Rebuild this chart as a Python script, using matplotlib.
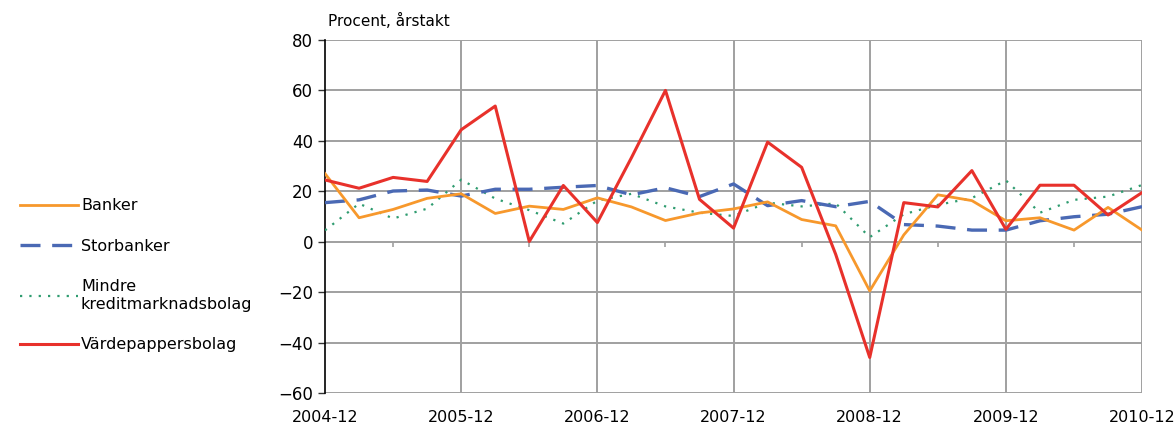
import numpy as np
import matplotlib.pyplot as plt

# Quarterly data, 2004-12 .. 2010-12 (percent, annual rate)
year_labels = ["2004-12", "2005-12", "2006-12", "2007-12", "2008-12", "2009-12", "2010-12"]

banker = [27.0, 9.5, 12.8, 17.2, 19.0, 11.2, 14.1, 12.8, 17.4,
          13.8, 8.4, 11.4, 13.0, 15.8, 8.8, 6.3, -19.5,
          2.7, 18.6, 16.3, 8.3, 9.5, 4.6, 13.6, 4.6]
storbanker = [15.5, 16.6, 20.1, 20.5, 18.1, 20.8, 20.8, 21.6, 22.3,
              18.6, 21.4, 17.9, 22.9, 14.3, 16.3, 13.9, 16.0,
              6.8, 6.2, 4.6, 4.6, 8.3, 9.9, 10.9, 13.9]
mindre = [4.5, 15.1, 9.2, 13.1, 24.6, 17.1, 12.5, 7.2, 16.3,
          19.0, 14.0, 11.5, 10.2, 15.5, 14.0, 15.2, 1.8,
          10.9, 14.6, 17.3, 24.3, 11.5, 16.6, 17.9, 22.5]
vardepapper = [24.5, 21.2, 25.5, 23.9, 44.4, 53.8, 0.1, 22.3, 7.6,
               33.3, 60.0, 16.8, 5.4, 39.5, 29.5, -5.0, -45.9,
               15.5, 13.8, 28.2, 4.9, 22.4, 22.4, 10.6, 19.5]

x = np.arange(len(banker))

fig = plt.figure(figsize=(11.75, 4.29), dpi=100)
ax = fig.add_axes([0.2766, 0.0839, 0.972 - 0.2766, 0.9068 - 0.0839])

grid_col = "#a0a0a0"

# grid
for v in range(-60, 81, 20):
    ax.axhline(v, color=grid_col, lw=1.4, zorder=1)
for q in range(4, 25, 4):
    ax.axvline(q, color=grid_col, lw=1.4, zorder=1)
# small ticks on zero line at mid-years
ax.vlines(np.arange(2, 24, 4), -2.2, 0, color=grid_col, lw=1.2, zorder=1)

ax.plot(x, mindre, color="#2f9c70", lw=1.6, ls=(0, (1, 3.2)), zorder=3,
        label="Mindre\nkreditmarknadsbolag")
ax.plot(x, storbanker, color="#4a69b4", lw=2.4, ls=(0, (6, 3.5)), zorder=3,
        label="Storbanker")
ax.plot(x, banker, color="#f7982c", lw=2.0, zorder=4, label="Banker")
ax.plot(x, vardepapper, color="#e8312b", lw=2.2, zorder=5, label="Värdepappersbolag")

ax.set_xlim(0, 24)
ax.set_ylim(-60, 80)
ax.set_yticks(range(-60, 81, 20))
ax.set_xticks(range(0, 25, 4))
ax.set_xticklabels(year_labels)
ax.tick_params(axis="x", length=0, pad=12, labelsize=11.5)
ax.tick_params(axis="y", length=5, width=1, labelsize=12, direction="out", color="#333333")
for s in ["top", "right", "bottom"]:
    ax.spines[s].set_visible(False)
ax.spines["left"].set_color("black")
ax.spines["left"].set_linewidth(1.2)

fig.text(0.279, 0.952, "Procent, årstakt", fontsize=11, ha="left", va="center")

h, l = ax.get_legend_handles_labels()
order = [2, 1, 0, 3]
fig.legend([h[i] for i in order], [l[i] for i in order], loc="center left",
           bbox_to_anchor=(0.005, 0.358), frameon=False, fontsize=11.5,
           handlelength=3.6, handletextpad=0.2, labelspacing=1.6)

fig.savefig("out.png", dpi=100)
